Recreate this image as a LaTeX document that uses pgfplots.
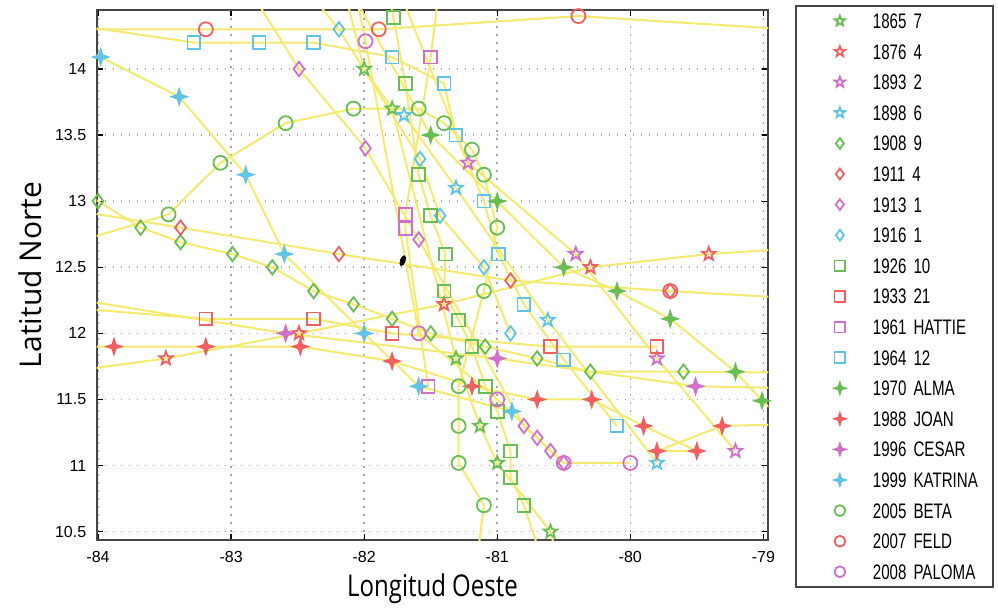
\documentclass[border=0pt]{standalone}
\usepackage{fontspec}
\setmainfont{Liberation Sans}
\newfontfamily\labfont{Open Sans}
\newfontfamily\labfontn[FakeStretch=0.8]{Open Sans}
\newfontfamily\legfont[FakeStretch=0.72]{Liberation Sans}
\usepackage{pgfplots}
\pgfplotsset{compat=1.18}
\usetikzlibrary{plotmarks}

\definecolor{mg}{RGB}{104,190,84}
\definecolor{mr}{RGB}{240,96,96}
\definecolor{mm}{RGB}{208,112,200}
\definecolor{mc}{RGB}{96,196,230}
\definecolor{ly}{RGB}{244,234,112}

% pentagram (outline) and filled four-point star
\pgfdeclareplotmark{pstar}{%
  \pgfpathmoveto{\pgfpointpolar{90}{\pgfplotmarksize}}%
  \pgfpathlineto{\pgfpointpolar{126}{0.42\pgfplotmarksize}}%
  \pgfpathlineto{\pgfpointpolar{162}{\pgfplotmarksize}}%
  \pgfpathlineto{\pgfpointpolar{198}{0.42\pgfplotmarksize}}%
  \pgfpathlineto{\pgfpointpolar{234}{\pgfplotmarksize}}%
  \pgfpathlineto{\pgfpointpolar{270}{0.42\pgfplotmarksize}}%
  \pgfpathlineto{\pgfpointpolar{306}{\pgfplotmarksize}}%
  \pgfpathlineto{\pgfpointpolar{342}{0.42\pgfplotmarksize}}%
  \pgfpathlineto{\pgfpointpolar{18}{\pgfplotmarksize}}%
  \pgfpathlineto{\pgfpointpolar{54}{0.42\pgfplotmarksize}}%
  \pgfpathclose\pgfusepathqstroke}
\pgfdeclareplotmark{fstar}{%
  \pgfpathmoveto{\pgfpointpolar{90}{\pgfplotmarksize}}%
  \pgfpathlineto{\pgfpointpolar{135}{0.35\pgfplotmarksize}}%
  \pgfpathlineto{\pgfpointpolar{180}{\pgfplotmarksize}}%
  \pgfpathlineto{\pgfpointpolar{225}{0.35\pgfplotmarksize}}%
  \pgfpathlineto{\pgfpointpolar{270}{\pgfplotmarksize}}%
  \pgfpathlineto{\pgfpointpolar{315}{0.35\pgfplotmarksize}}%
  \pgfpathlineto{\pgfpointpolar{0}{\pgfplotmarksize}}%
  \pgfpathlineto{\pgfpointpolar{45}{0.35\pgfplotmarksize}}%
  \pgfpathclose\pgfusepathqfillstroke}

\pgfplotsset{
  trk/.style n args={3}{color=ly, line width=1pt, mark=#1, mark size=#3,
    mark options={draw=#2, fill=#2, line width=0.9pt, solid}},
}

\begin{document}
\begin{tikzpicture}
\begin{axis}[
    scale only axis,
    width=335.8pt, height=265pt,
    xmin=-84.01, xmax=-78.963, ymin=10.437, ymax=14.446,
    xtick={-84,-83,-82,-81,-80,-79},
    xticklabels={-84,-83,-82,-81,-80,-79},
    ytick={10.5,11,11.5,12,12.5,13,13.5,14},
    yticklabels={10.5,11,11.5,12,12.5,13,13.5,14},
    ticklabel style={font=\fontsize{8}{9}\selectfont},
    xticklabel style={yshift=-1.9pt},
    yticklabel style={xshift=-1.7pt},
    grid=major,
    major grid style={gray!70, line width=0.8pt, dash pattern=on 0.8pt off 3.2pt},
    axis line style={draw=gray!55!black, line width=1.1pt},
    tick style={black, line width=0.6pt},
    major tick length=3pt, tick align=inside,
    xlabel={Longitud Oeste}, ylabel={Latitud Norte},
    every axis x label/.style={at={(axis description cs:0.5,0)}, anchor=base, yshift=-28pt,
      font=\labfontn\fontsize{15}{18}\selectfont},
    every axis y label/.style={at={(axis description cs:-0.099,0.5)}, rotate=90, anchor=center,
      font=\labfont\fontsize{15}{18}\selectfont},
    legend cell align=left,
    legend image code/.code={\path (0pt,-3.75pt) (37.5pt,3.75pt);
      \draw[#1, mark size=2.7pt] plot coordinates {(21.5pt,0pt)};},
    legend style={at={(axis description cs:1,1)}, anchor=north west,
      xshift=13.35pt, yshift=2.5pt,
      draw=gray!55!black, line width=0.9pt, fill=white,
      inner xsep=0pt, inner ysep=3.3pt, row sep=6.8pt, column sep=0pt,
      nodes={inner sep=0pt, text height=7.5pt, text depth=0pt, text width=60pt,
        align=left, font=\legfont\fontsize{10.5}{12}\selectfont}},
]
% 1865 7
\addplot[trk={pstar}{mg}{3.5pt}] coordinates {
  (-80.55,10.30) (-80.60,10.50) (-81.00,11.02) (-81.13,11.30) (-81.31,11.81)
  (-81.79,13.70) (-82.00,14.00) (-82.15,14.60)};
\addlegendentry{1865 7}
% 1876 4
\addplot[trk={pstar}{mr}{3.5pt}] coordinates {
  (-78.50,12.66) (-79.41,12.60) (-80.30,12.50) (-81.40,12.22) (-82.49,12.00)
  (-83.49,11.81) (-84.30,11.70)};
\addlegendentry{1876 4}
% 1893 2
\addplot[trk={pstar}{mm}{3.5pt}] coordinates {
  (-81.70,14.50) (-81.22,13.29) (-80.41,12.60) (-79.80,11.81) (-79.21,11.11)};
\addlegendentry{1893 2}
% 1898 6
\addplot[trk={pstar}{mc}{3.5pt}] coordinates {
  (-81.70,13.65) (-81.31,13.10) (-80.62,12.10) (-79.80,11.02)};
\addlegendentry{1898 6}
% 1908 9
\addplot[trk={diamond}{mg}{3.6pt}] coordinates {
  (-84.30,13.20) (-84.00,13.00) (-83.68,12.80) (-83.38,12.69) (-82.99,12.60)
  (-82.69,12.50) (-82.38,12.32) (-82.08,12.22) (-81.79,12.11) (-81.50,12.00)
  (-81.09,11.90) (-80.70,11.81) (-80.30,11.71) (-79.60,11.71) (-78.50,11.70)};
\addlegendentry{1908 9}
% 1911 4
\addplot[trk={diamond}{mr}{3.6pt}] coordinates {
  (-84.30,12.95) (-83.38,12.80) (-82.19,12.60) (-80.90,12.40) (-79.70,12.32)
  (-78.50,12.25)};
\addlegendentry{1911 4}
% 1913 1
\addplot[trk={diamond}{mm}{3.6pt}] coordinates {
  (-82.80,14.50) (-82.49,14.00) (-81.99,13.40) (-81.59,12.71) (-80.80,11.30)
  (-80.70,11.21) (-80.60,11.11) (-80.50,11.02)};
\addlegendentry{1913 1}
% 1916 1
\addplot[trk={diamond}{mc}{3.6pt}] coordinates {
  (-82.35,14.50) (-82.19,14.30) (-81.58,13.32) (-81.43,12.89) (-81.10,12.50)
  (-80.90,12.00)};
\addlegendentry{1916 1}
% 1926 10
\addplot[trk={square}{mg}{3.2pt}] coordinates {
  (-81.80,14.50) (-81.78,14.39) (-81.69,13.89) (-81.59,13.20) (-81.50,12.89)
  (-81.39,12.60) (-81.40,12.32) (-81.29,12.10) (-81.19,11.90) (-81.09,11.60)
  (-81.00,11.41) (-80.90,11.11) (-80.90,10.91) (-80.80,10.70) (-80.70,10.40)};
\addlegendentry{1926 10}
% 1933 21
\addplot[trk={square}{mr}{3.2pt}] coordinates {
  (-84.30,12.20) (-83.19,12.11) (-82.38,12.11) (-81.79,12.00) (-80.60,11.90)
  (-79.80,11.90)};
\addlegendentry{1933 21}
% 1961 HATTIE
\addplot[trk={square}{mm}{3.2pt}] coordinates {
  (-81.52,11.60) (-81.69,12.79) (-81.69,12.90) (-81.50,14.09) (-81.45,14.50)};
\addlegendentry{1961 HATTIE}
% 1964 12
\addplot[trk={square}{mc}{3.2pt}] coordinates {
  (-80.10,11.30) (-80.50,11.80) (-80.80,12.22) (-80.99,12.60) (-81.10,13.00)
  (-81.31,13.50) (-81.40,13.89) (-81.79,14.09) (-82.38,14.20) (-82.79,14.20)
  (-83.28,14.20) (-84.30,14.35)};
\addlegendentry{1964 12}
% 1970 ALMA
\addplot[trk={fstar}{mg}{3.6pt}] coordinates {
  (-82.05,14.50) (-81.50,13.50) (-81.00,13.00) (-80.50,12.50) (-80.10,12.32)
  (-79.70,12.11) (-79.21,11.71) (-79.01,11.49) (-78.80,11.30)};
\addlegendentry{1970 ALMA}
% 1988 JOAN
\addplot[trk={fstar}{mr}{3.6pt}] coordinates {
  (-78.50,11.32) (-79.31,11.30) (-79.80,11.11) (-79.50,11.11) (-79.90,11.30)
  (-80.29,11.50) (-80.70,11.50) (-81.19,11.60) (-81.79,11.79) (-82.48,11.90)
  (-83.19,11.90) (-83.88,11.90) (-84.30,11.90)};
\addlegendentry{1988 JOAN}
% 1996 CESAR
\addplot[trk={fstar}{mm}{3.6pt}] coordinates {
  (-78.50,11.58) (-79.51,11.60) (-81.00,11.81) (-82.59,12.00) (-84.30,12.28)};
\addlegendentry{1996 CESAR}
% 1999 KATRINA
\addplot[trk={fstar}{mc}{3.6pt}] coordinates {
  (-80.89,11.41) (-81.59,11.60) (-82.00,12.00) (-82.60,12.60) (-82.89,13.20)
  (-83.39,13.79) (-83.98,14.09) (-84.30,14.25)};
\addlegendentry{1999 KATRINA}
% 2005 BETA
\addplot[trk={o}{mg}{3.5pt}] coordinates {
  (-81.15,10.30) (-81.10,10.70) (-81.29,11.02) (-81.29,11.30) (-81.29,11.60)
  (-81.10,12.32) (-81.00,12.80) (-81.10,13.20) (-81.19,13.39) (-81.40,13.59)
  (-81.59,13.70) (-82.08,13.70) (-82.59,13.59) (-83.08,13.29) (-83.47,12.90)
  (-84.30,12.65)};
\addlegendentry{2005 BETA}
% 2007 FELD
\addplot[trk={o}{mr}{3.5pt}] coordinates {
  (-78.50,14.28) (-80.39,14.40) (-81.89,14.30) (-83.19,14.30) (-84.30,14.30)};
\addlegendentry{2007 FELD}
% 2008 PALOMA
\addplot[trk={o}{mm}{3.5pt}] coordinates {
  (-80.00,11.02) (-80.50,11.02) (-81.00,11.50) (-81.59,12.00) (-81.99,14.21)
  (-82.05,14.50)};
\addlegendentry{2008 PALOMA}
% extra marks
\addplot[only marks, mark=o, mark size=3.5pt, mark options={draw=mr, line width=0.9pt}, forget plot]
  coordinates {(-79.70,12.32)};
\addplot[only marks, mark=*, mark size=2.6pt, black, mark options={rotate=-20, xscale=0.45}, forget plot]
  coordinates {(-81.71,12.55)};
\end{axis}
\path (current axis.south west) ++(-48.35pt,-31.5pt) rectangle ++(499pt,301.5pt);
\end{tikzpicture}
\end{document}
